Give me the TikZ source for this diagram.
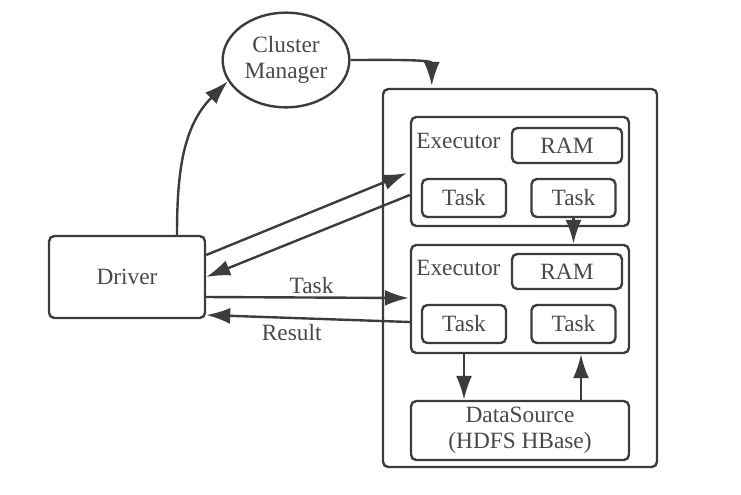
\documentclass[tikz,border=0pt]{standalone}
\usepackage{fontspec}
\setmainfont{Liberation Serif}
\usetikzlibrary{arrows.meta,calc,shapes.geometric}
\definecolor{linegray}{HTML}{3C3C3C}
\definecolor{textgray}{HTML}{484848}

\begin{document}
\begin{tikzpicture}[x=0.75pt,y=-0.75pt,
            box/.style={draw=linegray,line width=1.8pt,rounded corners=4pt,text=textgray,font=\fontsize{17.5}{19.5}\selectfont,inner sep=0pt,align=center},
            lbl/.style={text=textgray,font=\fontsize{17.5}{19.5}\selectfont,inner sep=2pt},
            arr/.style={draw=linegray,line width=1.8pt,-{Latex[length=18pt,width=12pt]}}]
            \useasboundingbox (0,0) rectangle (741,494);
            \node[box,rounded corners=0pt,ellipse,minimum width=95pt,minimum height=71pt] (cm) at (286,60) {Cluster\\Manager};
            \node[box,minimum width=117pt,minimum height=61.5pt] (driver) at (127,277) {Driver};
            \node[box,minimum width=205.5pt,minimum height=283.5pt] (worker) at (520,278) {};
            \node[box,minimum width=163.5pt,minimum height=81.75pt] (exec1) at (520,171.5) {};
            \node[box,minimum width=163.5pt,minimum height=81pt] (exec2) at (520,299) {};
            \node[box,minimum width=163.5pt,minimum height=44.25pt] (ds) at (520,430.5) {DataSource\\(HDFS HBase)};
            \node[lbl,anchor=west,inner sep=0pt] (exlbl1) at (416,141) {Executor};
            \node[lbl,anchor=west,inner sep=0pt] (exlbl2) at (416,268) {Executor};
            \node[box,minimum width=82.5pt,minimum height=26.25pt] (ram1) at (567,145.5) {RAM};
            \node[box,minimum width=82.5pt,minimum height=26.25pt] (ram2) at (567,271.5) {RAM};
            \node[box,minimum width=63pt,minimum height=28.5pt] (task1a) at (464,198) {Task};
            \node[box,minimum width=63pt,minimum height=28.5pt] (task1b) at (573.5,198) {Task};
            \node[box,minimum width=63pt,minimum height=28.5pt] (task2a) at (464,324) {Task};
            \node[box,minimum width=63pt,minimum height=28.5pt] (task2b) at (573.5,324) {Task};
            \coordinate (cmin) at (cm.200);
            \coordinate (wtop) at ([shift={(50,-2)}]worker.north west);
            \coordinate (dsup) at ([shift={(61,0)}]ds.north);
            \draw[arr] ([shift={(50,0)}]driver.north) to[out=90,in=225] (cmin);
            \draw[arr] (cm.east) to[out=0,in=90,looseness=0.8] (wtop);
            \draw[arr] ([shift={(0,-22)}]driver.east) -- ([shift={(-3,1.5)}]exec1.west);
            \draw[arr] ([shift={(0,23.5)}]exec1.west) -- (driver.east);
            \draw[arr] ([shift={(0,20)}]driver.east) -- node[lbl,above,pos=0.52] (tasklbl) {Task} ([shift={(-1,-1)}]exec2.west);
            \draw[arr] ([shift={(0,23)}]exec2.west) -- node[lbl,below,pos=0.58,yshift=-2pt] (reslbl) {Result} ([shift={(0,38)}]driver.east);
            \draw[arr] (task1b.south) -- (task1b.south |- exec2.north);
            \draw[arr] (task2a.south |- exec2.south) -- (task2a.south |- ds.north);
            \draw[arr] (dsup) -- (dsup |- exec2.south);
            \end{tikzpicture}
\end{document}
